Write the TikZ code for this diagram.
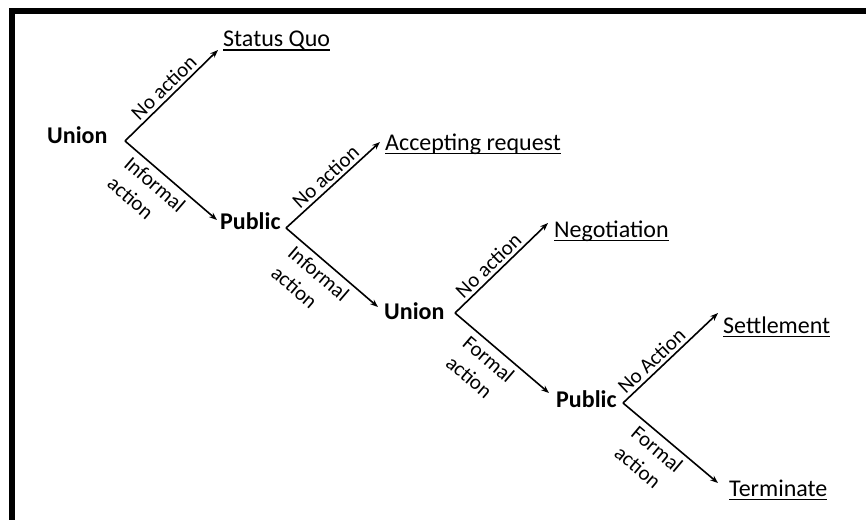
\documentclass[tikz,border=0pt]{standalone}
\usepackage{fontspec}
\setmainfont{Carlito}
\usetikzlibrary{arrows.meta}
\newcommand\myul[1]{\setbox0\hbox{#1}\rlap{\rule[-3.8pt]{\wd0}{1.3pt}}\box0}
\tikzset{
  arr/.style={line width=1.6pt,-{Stealth[length=8pt,width=6pt]}},
  player/.style={anchor=base west,inner sep=0pt,font=\fontsize{24}{28}\selectfont\bfseries},
  outcome/.style={anchor=base west,inner sep=0pt,font=\fontsize{24}{28}\selectfont},
  lab/.style={sloped,font=\fontsize{21}{26}\selectfont,inner sep=3pt},
  lab2/.style={sloped,font=\fontsize{21}{26}\selectfont,align=left,inner sep=5pt}
}
\begin{document}
\begin{tikzpicture}[x=1pt,y=-1pt]
\useasboundingbox (0,0) rectangle (866,520);
\fill[white] (0,0) rectangle (866,520);
\fill[black] (9,8) rectangle (866,14);
\fill[black] (9,8) rectangle (14.5,520);
% nodes
\node[player]  (u1)  at (47,143.3) {Union};
\node[outcome] (sq)  at (223,46.7) {\myul{Status Quo}};
\node[player]  (p1)  at (220,229) {Public};
\node[outcome] (ar)  at (385,150) {\myul{Accepting request}};
\node[player]  (u2)  at (384,319) {Union};
\node[outcome] (neg) at (554,237) {\myul{Negotiation}};
\node[player]  (p2)  at (556,407) {Public};
\node[outcome] (set) at (723,333) {\myul{Settlement}};
\node[outcome] (ter) at (729,496) {\myul{Terminate}};
% branch points
\coordinate (b1) at (125,141);
\coordinate (b2) at (286,228);
\coordinate (b3) at (455,313);
\coordinate (b4) at (623,403);
% connectors
\draw[arr] (b1) -- ([shift={(-5,3.3)}]sq.base west)
  node[lab,above,pos=0.5] {No action};
\draw[arr] (b1) -- ([shift={(-3,-9)}]p1.base west)
  node[lab2,below,pos=0.42] {Informal\\action};
\draw[arr] (b2) -- ([shift={(-5,-8)}]ar.base west)
  node[lab,above,pos=0.5] {No action};
\draw[arr] (b2) -- ([shift={(-6,-12)}]u2.base west)
  node[lab2,below,pos=0.45] {Informal\\action};
\draw[arr] (b3) -- ([shift={(-6,-14)}]neg.base west)
  node[lab,above,pos=0.44] {No action};
\draw[arr] (b3) -- ([shift={(-7,-14)}]p2.base west)
  node[lab2,below,pos=0.45] {Formal\\action};
\draw[arr] (b4) -- ([shift={(-5,-20)}]set.base west)
  node[lab,above,pos=0.38] {No Action};
\draw[arr] (b4) -- ([shift={(-11,-13)}]ter.base west)
  node[lab2,below,pos=0.45] {Formal\\action};
\end{tikzpicture}
\end{document}
